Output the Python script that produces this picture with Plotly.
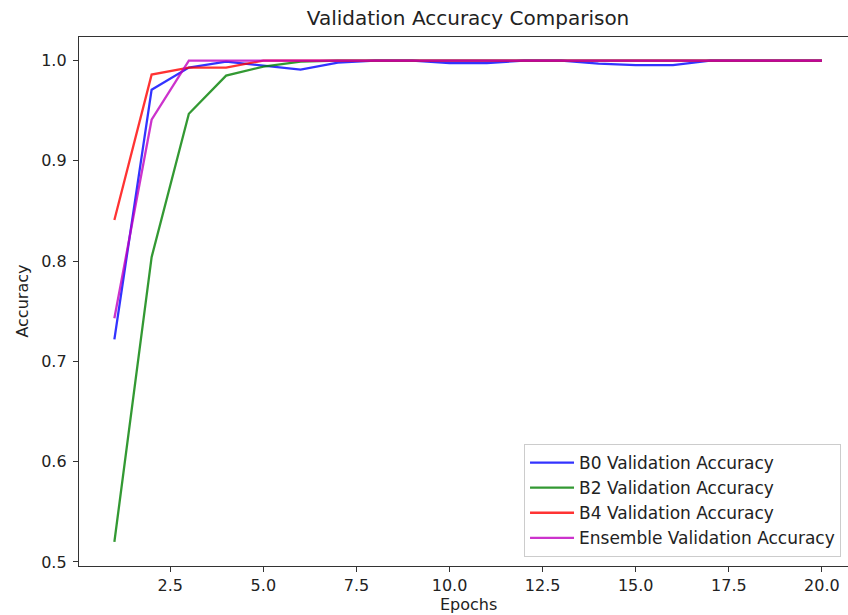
import plotly.graph_objects as go

# Validation accuracy per epoch for each model
epochs = list(range(1, 21))
b0_acc = [0.722, 0.971, 0.993, 0.999, 0.995, 0.991, 0.998, 1.0, 1.0, 0.9975,
          0.9975, 1.0, 1.0, 0.997, 0.9955, 0.9955, 1.0, 1.0, 1.0, 1.0]
b2_acc = [0.52, 0.804, 0.947, 0.985, 0.994, 0.999, 1.0, 1.0, 1.0, 1.0,
          1.0, 1.0, 1.0, 1.0, 1.0, 1.0, 1.0, 1.0, 1.0, 1.0]
b4_acc = [0.841, 0.986, 0.993, 0.993, 1.0, 1.0, 1.0, 1.0, 1.0, 1.0,
          1.0, 1.0, 1.0, 1.0, 1.0, 1.0, 1.0, 1.0, 1.0, 1.0]
ens_acc = [0.743, 0.941, 1.0, 1.0, 1.0, 1.0, 1.0, 1.0, 1.0, 1.0,
           1.0, 1.0, 1.0, 1.0, 1.0, 1.0, 1.0, 1.0, 1.0, 1.0]

series = [
    ("B0 Validation Accuracy", b0_acc, "rgba(0,0,255,0.8)"),
    ("B2 Validation Accuracy", b2_acc, "rgba(0,128,0,0.8)"),
    ("B4 Validation Accuracy", b4_acc, "rgba(255,0,0,0.8)"),
    ("Ensemble Validation Accuracy", ens_acc, "rgba(191,0,191,0.8)"),
]

x_ticks = [2.5, 5.0, 7.5, 10.0, 12.5, 15.0, 17.5, 20.0]
y_ticks = [0.5, 0.6, 0.7, 0.8, 0.9, 1.0]

FONT = "DejaVu Sans"
TEXT = "#222222"

fig = go.Figure()
for name, vals, color in series:
    fig.add_trace(go.Scatter(
        x=epochs, y=vals, mode="lines", name=name, legendgroup=name,
        line=dict(color=color, width=2.3),
    ))

axis_style = dict(
    showgrid=False, zeroline=False,
    showline=True, linecolor="#333333", linewidth=1.3,
    ticks="outside", ticklen=5, tickcolor="#333333", tickwidth=1.3,
    tickfont=dict(family=FONT, size=16, color=TEXT),
)

fig.update_layout(
    width=848, height=615,
    margin=dict(l=79, r=0, t=37, b=49),
    paper_bgcolor="white", plot_bgcolor="white",
    font=dict(family=FONT, size=16, color=TEXT),
    showlegend=True,
    legend=dict(
        x=0.5787, y=0.017, xanchor="left", yanchor="bottom",
        bgcolor="rgba(255,255,255,0.8)", bordercolor="#cccccc", borderwidth=1,
        font=dict(family=FONT, size=17, color=TEXT),
        tracegroupgap=0, itemwidth=44,
    ),
    title=dict(
        text="Validation Accuracy Comparison",
        font=dict(family=FONT, size=20, color=TEXT),
        x=0.5059, xref="paper", xanchor="center",
        y=1 - 18 / 615, yref="container", yanchor="middle",
    ),
    xaxis=dict(range=[0.05, 20.7], tickvals=x_ticks, tickformat=".1f",
               mirror=True, **axis_style),
    yaxis=dict(range=[0.496, 1.0235], tickvals=y_ticks, tickformat=".1f",
               mirror=False, ticklabelstandoff=3, **axis_style),
    annotations=[
        dict(text="Epochs", xref="paper", yref="paper", x=0.5059, y=-0.0737,
             xanchor="center", yanchor="middle", showarrow=False,
             font=dict(family=FONT, size=16, color=TEXT)),
        dict(text="Accuracy", xref="paper", yref="paper", x=-0.074, y=0.5,
             xanchor="center", yanchor="middle", showarrow=False, textangle=-90,
             font=dict(family=FONT, size=16, color=TEXT)),
    ],
)

fig.write_html("out.html")
